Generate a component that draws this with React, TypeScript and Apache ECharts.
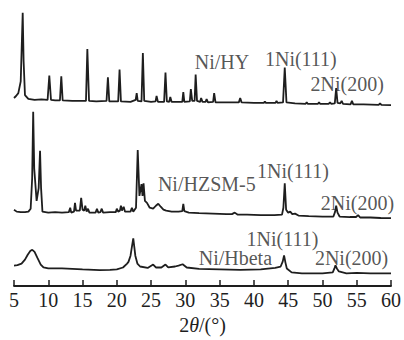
import React, { useEffect, useRef } from "react";
import * as echarts from "echarts";

// 2θ (°) vs stacked intensity (arbitrary units)
const hyData: number[][] = [
  [5.0, 192], [5.3, 194], [5.63, 197], [5.98, 209], [6.15, 250], [6.27, 279], [6.4, 230], [6.6, 195], [7.09, 191],
  [8.0, 190], [9.0, 190.5], [9.9, 190], [10.15, 215], [10.4, 190], [11.0, 189.5], [11.7, 189.5], [11.9, 214], [12.1, 189.5],
  [13.5, 189], [15.5, 189], [15.7, 242], [15.95, 189], [17.0, 188.5], [18.5, 189], [18.7, 213], [18.9, 188.5],
  [20.2, 188.5], [20.4, 221], [20.6, 188.5], [22.0, 188], [22.75, 190], [22.9, 197], [23.05, 189], [23.6, 188.5], [23.8, 238], [24.0, 189],
  [25.0, 188], [25.65, 188.5], [25.8, 194], [26.0, 188], [26.9, 188], [27.1, 218], [27.3, 188.5], [27.65, 188], [27.8, 193], [28.0, 188],
  [29.0, 188], [29.55, 188], [29.7, 198], [29.85, 188], [30.65, 188.5], [30.8, 201], [31.0, 189], [31.35, 189], [31.5, 216], [31.7, 189],
  [32.15, 188], [32.3, 192], [32.5, 188], [32.95, 188], [33.1, 191], [33.3, 187.5], [34.05, 188], [34.2, 197], [34.4, 187.5],
  [36.0, 187.5], [37.8, 187.5], [38.0, 192], [38.2, 187.5], [40.0, 187], [41.45, 187], [41.6, 188.5], [41.75, 187], [43.15, 187], [43.3, 189], [43.45, 187],
  [44.25, 187.5], [44.5, 223], [44.75, 187.5], [46.0, 186.5], [47.55, 186], [47.7, 187.5], [47.85, 186], [49.35, 186], [49.5, 187.5], [49.65, 186],
  [50.9, 186], [51.1, 187.5], [51.3, 186], [51.8, 186.5], [52.0, 202], [52.2, 187], [52.6, 186.5], [52.8, 189], [53.0, 186],
  [54.1, 185.5], [54.3, 189], [54.5, 185.5], [56.0, 185.5], [58.2, 185], [58.4, 186.5], [58.6, 185], [60.0, 184.7]
];

const hzsmData: number[][] = [
  [5.0, 78], [5.4, 76], [6.0, 75.5], [6.6, 75.5], [7.1, 76], [7.43, 79], [7.65, 110], [7.8, 178], [7.95, 120], [8.3, 87],
  [8.6, 100], [8.8, 138], [8.95, 100], [9.15, 76], [10.0, 75], [11.0, 75.5], [12.0, 75], [13.0, 75.5], [13.2, 80], [13.35, 75],
  [13.75, 76], [13.9, 85], [14.05, 77], [14.6, 77], [14.8, 90], [15.0, 78], [15.25, 77], [15.4, 82], [15.6, 76], [15.8, 79], [16.0, 75],
  [16.9, 75], [17.1, 79], [17.3, 75], [17.6, 75.5], [17.8, 79], [18.0, 75], [19.0, 75.5], [19.85, 75.5], [20.0, 79], [20.2, 76],
  [20.45, 77], [20.6, 82], [20.75, 77], [21.0, 81], [21.2, 76], [22.0, 76], [22.2, 80], [22.4, 76], [22.8, 80], [23.05, 139],
  [23.3, 92], [23.6, 104], [23.75, 92], [23.9, 105], [24.1, 87], [24.4, 85], [24.8, 80], [25.3, 79], [25.7, 82], [26.05, 84],
  [26.4, 81], [26.8, 78], [27.2, 77], [28.0, 76], [29.0, 76], [29.55, 76.5], [29.7, 84], [29.85, 76.5], [30.5, 75], [32.0, 74.5],
  [34.0, 74], [36.0, 73.5], [36.8, 73.5], [37.2, 75], [37.6, 73], [39.0, 73], [41.0, 72.5], [43.0, 72.5], [44.1, 73], [44.3, 80],
  [44.5, 105], [44.7, 78], [45.0, 75], [45.3, 76], [45.6, 73.5], [46.0, 74], [46.5, 72], [48.0, 71.5], [50.0, 71], [51.6, 71],
  [51.85, 76], [52.0, 82], [52.2, 75], [52.5, 71], [54.0, 70.5], [54.9, 70.5], [55.2, 72.5], [55.5, 70], [57.0, 70], [58.5, 69.5], [60.0, 69.3]
];

const hbetaData: number[][] = [
  [5.0, 21], [5.5, 21.5], [6.1, 23], [6.6, 27], [7.0, 32], [7.4, 36], [7.67, 37], [8.0, 35], [8.4, 29], [8.9, 22], [9.3, 19], [10.0, 18],
  [12.0, 18], [13.5, 17.5], [15.0, 17], [17.5, 16.3], [19.0, 16.5], [20.0, 17], [20.9, 19], [21.5, 23], [21.7, 24.7], [22.0, 31],
  [22.2, 40], [22.4, 48.7], [22.55, 40], [22.7, 31], [23.0, 23], [23.4, 20], [24.5, 18.5], [25.3, 22], [25.7, 19], [26.5, 19],
  [27.1, 22], [27.5, 19], [28.5, 20], [29.0, 21], [29.6, 22.3], [30.2, 19], [32.0, 17.5], [35.0, 17], [38.0, 16.5], [41.0, 17],
  [43.1, 18.7], [43.9, 20], [44.2, 25], [44.4, 31.3], [44.6, 24], [44.8, 18], [45.5, 14], [47.0, 13], [50.0, 13], [51.5, 14],
  [51.75, 18], [51.9, 21.3], [52.1, 18], [52.4, 15], [53.5, 13], [55.0, 13.5], [57.0, 13], [60.0, 13]
];

const labelTexts = ["Ni/HY", "1Ni(111)", "2Ni(200)", "Ni/HZSM-5", "1Ni(111)", "2Ni(200)", "Ni/Hbeta", "1Ni(111)", "2Ni(200)"];
const labelX = [35.35, 46.85, 53.6, 33.13, 45.7, 55.1, 37.3, 44.17, 54.25];
const labelY = [229, 231.5, 206.7, 104.5, 117.7, 85.3, 28.5, 48, 28.5];

const xTicks = { min: 5, max: 60, interval: 5 };
const xName = "2{it|θ}/(°)";

const SERIF = "'Liberation Serif', 'DejaVu Serif', serif";
const INK = "#1e1e1e";

export default function App() {
  const ref = useRef<HTMLDivElement>(null);
  useEffect(() => {
    document.body.style.margin = "0";
    if (!ref.current) return;
    const chart = echarts.init(ref.current, null, { renderer: "svg" });
    const lineSeries = (data: number[][]) => ({
      type: "line",
      data,
      showSymbol: false,
      symbol: "none",
      smooth: false,
      lineStyle: { color: INK, width: 1.8 },
      z: 2,
    });
    chart.setOption({
      animation: false,
      backgroundColor: "#ffffff",
      grid: { left: 14, right: 13, top: 0, bottom: 48, containLabel: false },
      xAxis: {
        type: "value",
        min: xTicks.min,
        max: xTicks.max,
        interval: xTicks.interval,
        name: xName,
        nameLocation: "middle",
        nameGap: 28,
        nameTextStyle: {
          fontFamily: SERIF,
          fontSize: 20,
          color: INK,
          rich: { it: { fontStyle: "italic", fontFamily: SERIF, fontSize: 20, color: INK } },
        },
        axisLine: { show: true, onZero: false, lineStyle: { color: INK, width: 1.8 } },
        axisTick: { show: true, inside: true, length: 6, lineStyle: { color: INK, width: 1.5 } },
        axisLabel: { fontFamily: SERIF, fontSize: 20, color: INK, margin: 4 },
        splitLine: { show: false },
      },
      yAxis: { type: "value", min: 0, max: 292, show: false, splitLine: { show: false } },
      series: [
        lineSeries(hyData),
        lineSeries(hzsmData),
        lineSeries(hbetaData),
        {
          type: "scatter",
          symbolSize: 0,
          silent: true,
          z: 5,
          data: labelTexts.map((t, i) => ({ name: t, value: [labelX[i], labelY[i]] })),
          label: {
            show: true,
            position: "inside",
            formatter: (p: any) => p.name,
            fontFamily: SERIF,
            fontSize: 20,
            lineHeight: 15,
            color: "#2a2a2a",
          },
        },
      ],
    });
    return () => chart.dispose();
  }, []);
  return <div ref={ref} style={{ width: 404, height: 340 }} />;
}
